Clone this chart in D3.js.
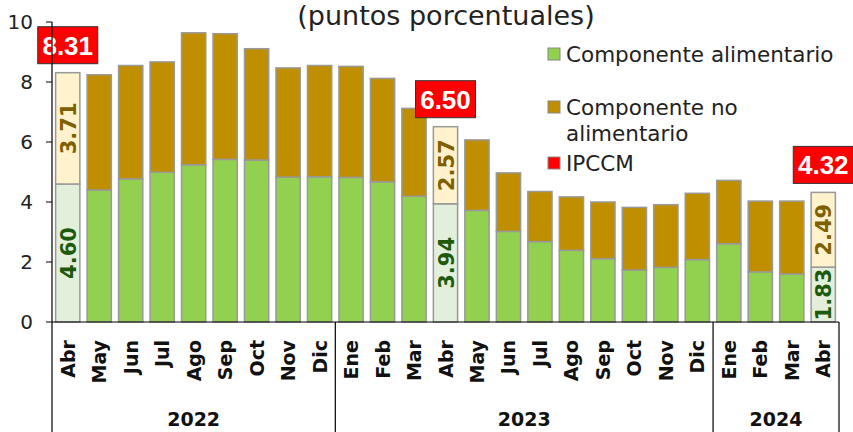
<!DOCTYPE html>
<html>
<head>
<meta charset="utf-8">
<script src="https://cdn.jsdelivr.net/npm/d3@7"></script>
<style>
  body { margin: 0; background: #fff; }
  svg { display: block; font-family: "DejaVu Sans", sans-serif; }
</style>
</head>
<body>
<div id="chart-container"></div>
<script>
const months = ["Abr","May","Jun","Jul","Ago","Sep","Oct","Nov","Dic",
                "Ene","Feb","Mar","Abr","May","Jun","Jul","Ago","Sep","Oct","Nov","Dic",
                "Ene","Feb","Mar","Abr"];
const food    = [4.60,4.40,4.77,4.99,5.24,5.42,5.40,4.83,4.84,
                 4.82,4.67,4.19,3.94,3.72,3.02,2.68,2.39,2.11,1.73,1.82,2.08,
                 2.61,1.67,1.60,1.83];
const nonFood = [3.71,3.84,3.78,3.68,4.40,4.19,3.71,3.64,3.71,
                 3.70,3.45,2.93,2.57,2.35,1.95,1.67,1.78,1.89,2.09,2.09,2.21,
                 2.11,2.36,2.43,2.49];
const highlightIdx = [0, 12, 24];
const ipccm = [8.31, 6.50, 4.32];
const years = ["2022", "2023", "2024"];
const yearStart = [0, 9, 21];
const yearEnd = [9, 21, 25];
const yTicks = [0, 2, 4, 6, 8, 10];

const W = 853, H = 432;
const svg = d3.select("#chart-container").append("svg")
  .attr("width", W).attr("height", H);

const x = d3.scaleBand()
  .domain(d3.range(months.length))
  .range([52, 839])
  .paddingInner(0.23)
  .paddingOuter(0.115);
const y = d3.scaleLinear().domain([0, 10]).range([322, 22]);

const isHi = (i) => highlightIdx.includes(i);

// title (top is clipped in the original, keep it just inside here)
svg.append("text")
  .attr("x", 446).attr("y", 25)
  .attr("text-anchor", "middle")
  .attr("font-size", 27)
  .attr("fill", "#222")
  .text("(puntos porcentuales)");

// bars
const bars = svg.append("g").attr("class", "bars");
bars.selectAll("rect.food")
  .data(food)
  .enter().append("rect")
  .attr("class", "food")
  .attr("x", (d, i) => x(i))
  .attr("width", x.bandwidth())
  .attr("y", (d) => y(d))
  .attr("height", (d) => y(0) - y(d))
  .attr("fill", (d, i) => isHi(i) ? "#e2efda" : "#92d050")
  .attr("stroke", "#999").attr("stroke-width", 1.5);
bars.selectAll("rect.nonfood")
  .data(nonFood)
  .enter().append("rect")
  .attr("class", "nonfood")
  .attr("x", (d, i) => x(i))
  .attr("width", x.bandwidth())
  .attr("y", (d, i) => y(food[i] + d))
  .attr("height", (d, i) => y(food[i]) - y(food[i] + d))
  .attr("fill", (d, i) => isHi(i) ? "#fff2cc" : "#bf8f00")
  .attr("stroke", "#999").attr("stroke-width", 1.5);

// value labels inside highlighted bars
const labels = svg.append("g").attr("class", "inbar");
highlightIdx.forEach((i) => {
  const cx = x(i) + x.bandwidth() / 2;
  const segs = [
    {lo: 0, hi: food[i], v: food[i], c: "#1d5a0c"},
    {lo: food[i], hi: food[i] + nonFood[i], v: nonFood[i], c: "#7f6000"}
  ];
  segs.forEach((s) => {
    const cy = (y(s.lo) + y(s.hi)) / 2;
    labels.append("text")
      .attr("transform", `translate(${cx + 8},${cy}) rotate(-90)`)
      .attr("text-anchor", "middle")
      .attr("font-size", 21)
      .attr("font-weight", "bold")
      .attr("fill", s.c)
      .text(s.v.toFixed(2));
  });
});

// red total boxes
const boxes = svg.append("g").attr("class", "totals");
highlightIdx.forEach((i, k) => {
  const cx = x(i) + x.bandwidth() / 2;
  const bottom = y(food[i] + nonFood[i]) - 9;
  boxes.append("rect")
    .attr("x", cx - 30).attr("y", bottom - 37)
    .attr("width", 60).attr("height", 37)
    .attr("fill", "#ff0000")
    .attr("stroke", "#333").attr("stroke-width", 1);
  boxes.append("text")
    .attr("x", cx).attr("y", bottom - 9)
    .attr("text-anchor", "middle")
    .attr("font-family", "'Liberation Sans', Arial, sans-serif")
    .attr("font-size", 26)
    .attr("font-weight", "bold")
    .attr("fill", "#fff")
    .text(ipccm[k].toFixed(2));
});

// y axis
const yAxis = svg.append("g").attr("class", "y-axis");
yAxis.append("line")
  .attr("x1", 52).attr("x2", 52).attr("y1", y(10)).attr("y2", H)
  .attr("stroke", "#000").attr("stroke-width", 1.2);
yAxis.selectAll("line.tick")
  .data(yTicks)
  .enter().append("line")
  .attr("class", "tick")
  .attr("x1", 46).attr("x2", 52)
  .attr("y1", (d) => y(d)).attr("y2", (d) => y(d))
  .attr("stroke", "#000");
yAxis.selectAll("text")
  .data(yTicks)
  .enter().append("text")
  .attr("x", 33).attr("y", (d) => y(d) + 7)
  .attr("text-anchor", "end")
  .attr("font-size", 20)
  .attr("fill", "#222")
  .text((d) => d);

// x axis
const xAxis = svg.append("g").attr("class", "x-axis");
xAxis.append("line")
  .attr("x1", 52).attr("x2", 839).attr("y1", y(0)).attr("y2", y(0))
  .attr("stroke", "#000").attr("stroke-width", 1.2);
xAxis.selectAll("line.sep")
  .data(yearEnd)
  .enter().append("line")
  .attr("class", "sep")
  .attr("x1", (d) => 52 + d * x.step()).attr("x2", (d) => 52 + d * x.step())
  .attr("y1", y(0)).attr("y2", H)
  .attr("stroke", "#000").attr("stroke-width", 1.2);
xAxis.selectAll("text.month")
  .data(months)
  .enter().append("text")
  .attr("class", "month")
  .attr("transform", (d, i) => `translate(${x(i) + x.bandwidth() / 2 + 7},340) rotate(-90)`)
  .attr("text-anchor", "end")
  .attr("font-size", 19)
  .attr("font-weight", "bold")
  .attr("fill", "#111")
  .text((d) => d);
xAxis.selectAll("text.year")
  .data(years)
  .enter().append("text")
  .attr("class", "year")
  .attr("x", (d, i) => 52 + (yearStart[i] + yearEnd[i]) / 2 * x.step())
  .attr("y", 426)
  .attr("text-anchor", "middle")
  .attr("font-size", 19)
  .attr("font-weight", "bold")
  .attr("fill", "#111")
  .text((d) => d);

// legend
const legendItems = [
  {lines: ["Componente alimentario"], fill: "#92d050", y: 54},
  {lines: ["Componente no", "alimentario"], fill: "#bf8f00", y: 107},
  {lines: ["IPCCM"], fill: "#ff0000", y: 163}
];
const legend = svg.append("g").attr("class", "legend");
legendItems.forEach((it) => {
  legend.append("rect")
    .attr("x", 548).attr("y", it.y - 6)
    .attr("width", 12).attr("height", 12)
    .attr("fill", it.fill)
    .attr("stroke", "#888").attr("stroke-width", 1);
  it.lines.forEach((t, j) => {
    legend.append("text")
      .attr("x", 566).attr("y", it.y + 8 + j * 26)
      .attr("font-size", 21.5)
      .attr("fill", "#222")
      .text(t);
  });
});
</script>
</body>
</html>
